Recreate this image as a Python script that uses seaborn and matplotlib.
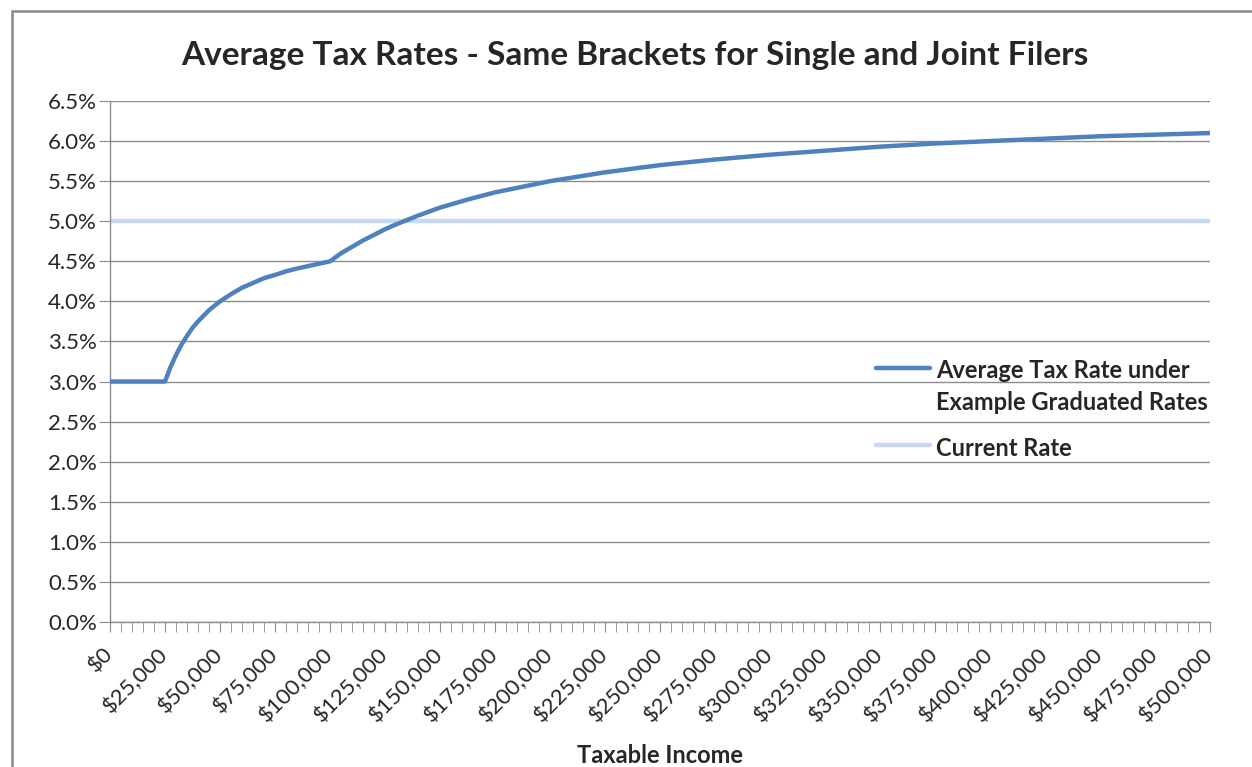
import numpy as np
import pandas as pd
import matplotlib
matplotlib.use('Agg')
import matplotlib.pyplot as plt
import seaborn as sns
from matplotlib.ticker import MultipleLocator, FuncFormatter
from matplotlib.patches import Rectangle

# Values
income = [0, 5000, 10000, 15000, 20000, 25000, 27500, 30000, 32500, 35000, 37500,
          40000, 42500, 45000, 50000, 55000, 60000, 65000, 70000, 75000, 80000,
          85000, 90000, 95000, 100000, 105000, 110000, 115000, 120000, 125000,
          130000, 140000, 150000, 162500, 175000, 187500, 200000, 225000, 250000,
          275000, 300000, 325000, 350000, 375000, 400000, 450000, 500000]
avg_rate = [3.0, 3.0, 3.0, 3.0, 3.0, 3.0, 3.18, 3.33, 3.46, 3.57, 3.67,
            3.75, 3.82, 3.89, 4.0, 4.09, 4.17, 4.23, 4.29, 4.33, 4.375,
            4.41, 4.44, 4.47, 4.5, 4.6, 4.68, 4.76, 4.83, 4.9,
            4.96, 5.07, 5.17, 5.27, 5.36, 5.43, 5.5, 5.61, 5.7,
            5.77, 5.83, 5.88, 5.93, 5.97, 6.0, 6.06, 6.1]
current_rate = 5.0

label_avg = 'Average Tax Rate under\nExample Graduated Rates'
label_cur = 'Current Rate'

df = pd.DataFrame({'income': income, 'rate': avg_rate})
df_cur = pd.DataFrame({'income': [income[0], income[-1]], 'rate': [current_rate, current_rate]})

sns.set_style('white')
plt.rcParams['font.family'] = ['Lato', 'DejaVu Sans']

fig = plt.figure(figsize=(12.52, 7.67), dpi=100)
ax = fig.add_axes([110 / 1252, 1 - 622 / 767, 1100 / 1252, 521 / 767])

grid_col = '#8c8c8c'
sns.lineplot(data=df, x='income', y='rate', ax=ax, color='#4F81BD', linewidth=3.2,
             label=label_avg, zorder=3)
sns.lineplot(data=df_cur, x='income', y='rate', ax=ax, color='#C6D9F1', linewidth=3.2,
             label=label_cur, zorder=2)

ax.set_xlim(0, 500000)
ax.set_ylim(0, 6.5)
ax.yaxis.set_major_locator(MultipleLocator(0.5))
ax.yaxis.set_major_formatter(FuncFormatter(lambda v, p: f'{v:.1f}%'))
ax.xaxis.set_major_locator(MultipleLocator(25000))
ax.xaxis.set_minor_locator(MultipleLocator(5000))
ax.xaxis.set_major_formatter(FuncFormatter(lambda v, p: f'${v:,.0f}'))
ax.grid(axis='y', color=grid_col, linewidth=1.0)
ax.set_axisbelow(True)

for s in ['top', 'right']:
    ax.spines[s].set_visible(False)
for s in ['left', 'bottom']:
    ax.spines[s].set_color(grid_col)
    ax.spines[s].set_linewidth(1.0)

ax.tick_params(axis='y', which='major', direction='out', length=8, color=grid_col,
               labelsize=16, pad=1.5, left=True)
ax.tick_params(axis='x', which='both', direction='out', length=7, color=grid_col,
               labelsize=16, pad=14, bottom=True)
for lab in ax.get_xticklabels():
    lab.set_rotation(45)
    lab.set_ha('right')
    lab.set_va('center')
    lab.set_rotation_mode('anchor')

ax.set_xlabel('Taxable Income', fontsize=17, fontweight='bold', labelpad=13)
ax.set_ylabel('')
fig.text(635 / 1252, 1 - 55 / 767,
         'Average Tax Rates - Same Brackets for Single and Joint Filers',
         fontsize=24, fontweight='bold', ha='center', va='center')

leg = ax.legend(loc='upper left', bbox_to_anchor=(0.677, 0.545), frameon=False,
                fontsize=17, handlelength=2.3, handletextpad=0.25, labelspacing=0.98)
for t in leg.get_texts():
    t.set_fontweight('bold')
    t.set_linespacing(1.45)
# Excel puts the legend line next to the first text line, not the middle
try:
    for col in leg._legend_handle_box.get_children():
        for row in col.get_children():
            row.align = 'top'
except AttributeError:
    pass

fig.patches.append(Rectangle((12 / 1252, -0.05), 1.1, 1 - 11 / 767 + 0.05,
                             transform=fig.transFigure, fill=False,
                             edgecolor='#8a8a8a', linewidth=1.8))

fig.savefig('out.png', dpi=100)
